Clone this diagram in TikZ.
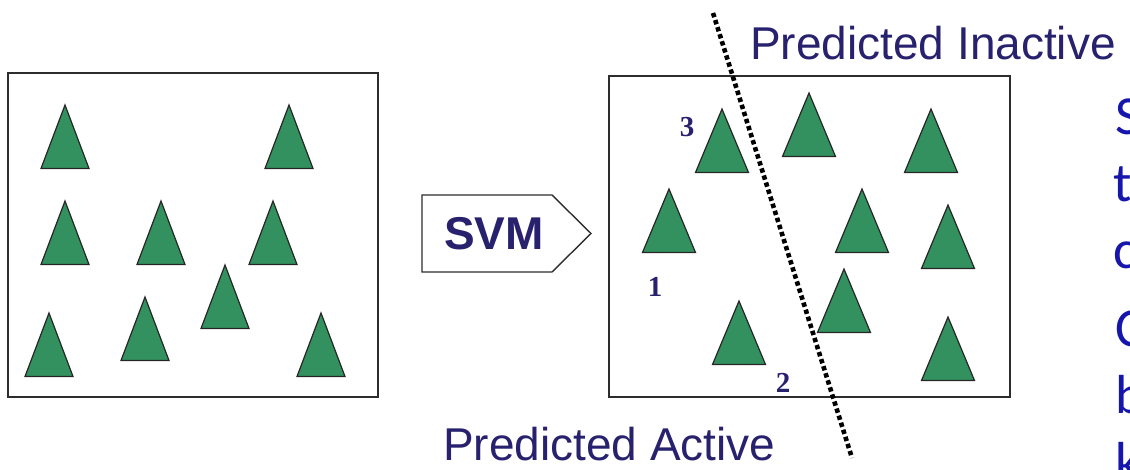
\documentclass[tikz,border=0pt]{standalone}
\usepackage{fontspec}
\setmainfont{Liberation Sans}
\newfontfamily\serifbold{Liberation Serif}
\newfontfamily\bodyfont{Carlito}
\definecolor{navy}{RGB}{40,34,110}
\definecolor{leafgreen}{RGB}{50,145,95}
\definecolor{frame}{RGB}{45,45,45}
\definecolor{bodyblue}{RGB}{22,22,172}
\tikzset{
  box/.style={draw=frame, line width=1.4pt},
  trifill/.style={fill=leafgreen, draw=black!85, line width=1.2pt, line join=miter},
  pics/tri/.style={code={\draw[trifill] (0,0) -- ({-#1/2},63.5) -- ({#1/2},63.5) -- cycle;}},
  idx/.style={text=navy, font=\serifbold\bfseries\fontsize{29}{29}\selectfont, inner sep=0pt},
  region/.style={text=navy, font=\fontsize{46}{46}\selectfont, inner sep=0pt, anchor=base west},
  cut/.style={text=bodyblue, font=\bodyfont\fontsize{55}{55}\selectfont, inner sep=0pt, anchor=base west},
  boundary/.style={line width=4.6pt, dash pattern=on 4.4pt off 3pt, black}
}
\begin{document}
\begin{tikzpicture}[x=1pt, y=-1pt]
  \useasboundingbox (0,0) rectangle (1130,470);
  \begin{scope}
  \clip (0,0) rectangle (1130,470);

  % unlabelled data set
  \draw[box] (8,73) rectangle (378,397);
  \foreach \px/\py [count=\i] in {65/105, 289/105, 65/201, 161/201, 273/201,
                                  225/265, 145/297, 49/313, 321/313}
    \pic (a\i) at (\px,\py) {tri=48};

  % classifier arrow
  \draw[line width=1.4pt, draw=frame, line join=miter]
    (422,195) -- (552,195) -- (591,233.5) -- (552,272) -- (422,272) -- cycle;
  \node[text=navy, font=\bfseries\fontsize{46}{46}\selectfont, inner sep=0pt]
    (svm) at (494,234) {SVM};

  % classified data set
  \draw[box] (609,76) rectangle (1010,397);
  \foreach \px/\py [count=\i] in {722/109, 669/189, 739/301, 809/93, 931/109,
                                  862/189, 948/205, 844/269, 948/317}
    \pic (b\i) at (\px,\py) {tri=53};

  \node[idx] (n3) at (687,127) {3};
  \node[idx] (n1) at (655,287) {1};
  \node[idx] (n2) at (783,383) {2};

  % separating hyperplane
  \coordinate (hTop) at (713,13);
  \coordinate (hBot) at (852,458);
  \draw[boundary] (hTop) -- (hBot);

  \node[region] (inact) at (750,60) {Predicted Inactive};
  \node[region] (act) at (443,460) {Predicted Active};

  % body text running off the right edge
  \node[cut] (l1) at (1115,135) {S};
  \node[cut] (l2) at (1113,202) {t};
  \node[cut] (l3) at (1113,269) {c};
  \node[cut] (l4) at (1115,347) {C};
  \node[cut] (l5) at (1115,413) {b};
  \node[cut] (l6) at (1115,480) {k};
  \end{scope}
\end{tikzpicture}
\end{document}
